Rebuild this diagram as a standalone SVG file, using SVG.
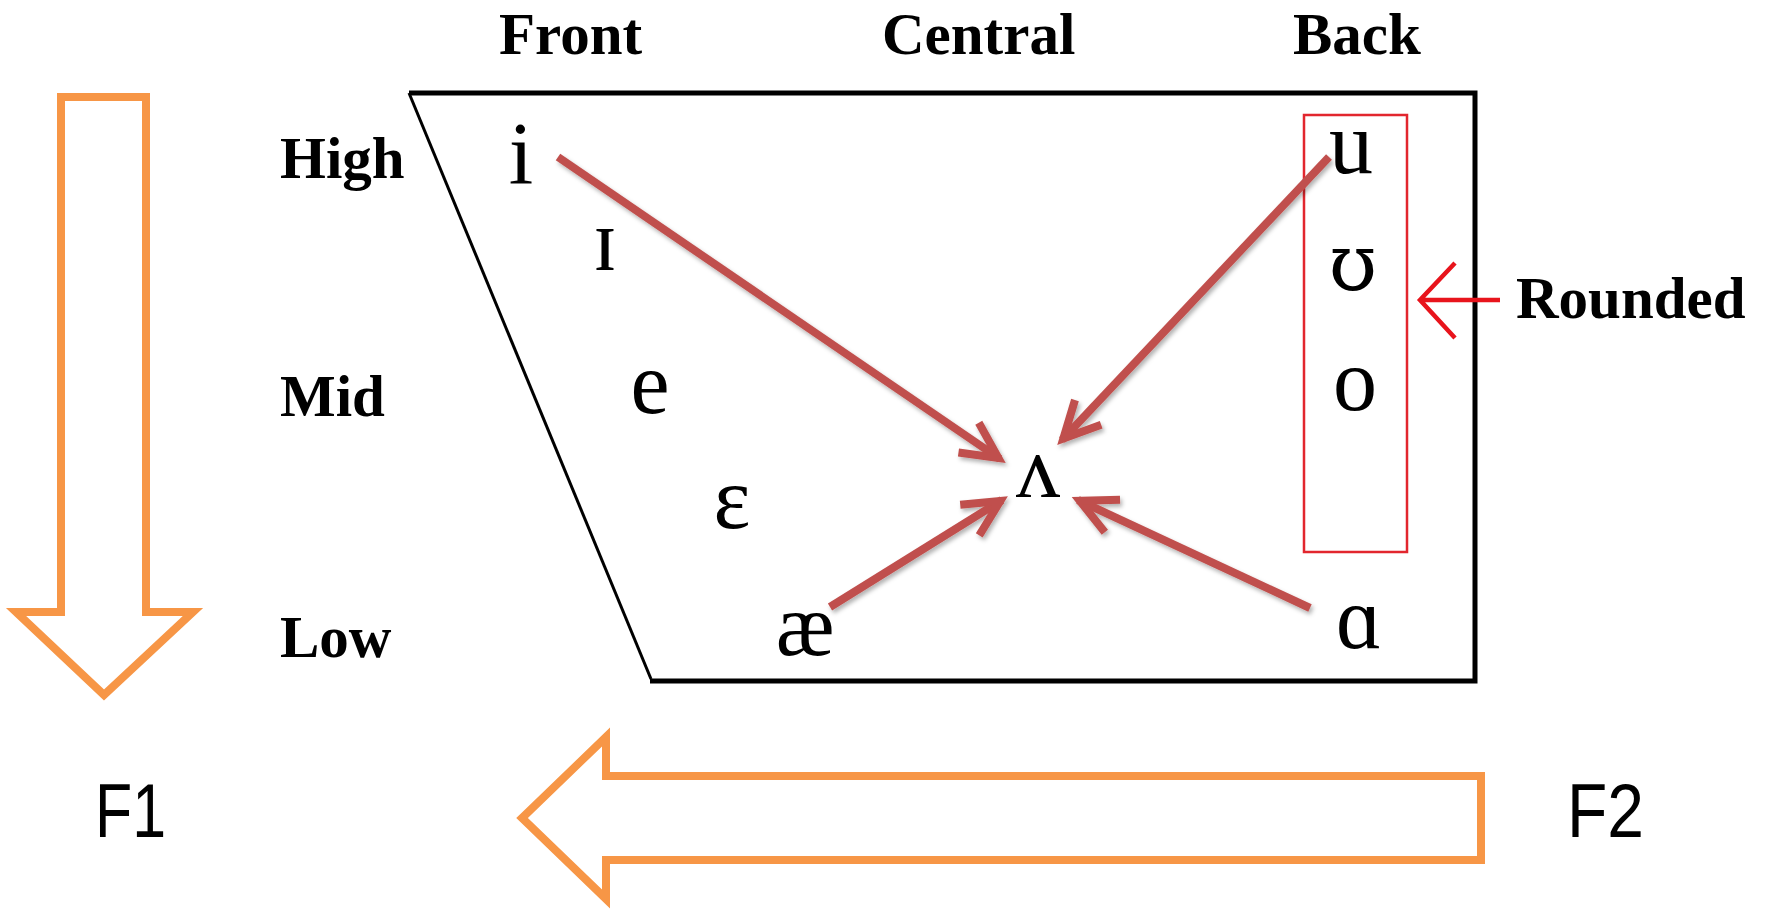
<svg xmlns="http://www.w3.org/2000/svg" width="1767" height="910" viewBox="0 0 1767 910">
<style>
.lab{font-family:"Liberation Serif","Times New Roman",serif;font-weight:bold;font-size:59px;fill:#000}
.vow{font-family:"Liberation Serif","DejaVu Serif",serif;font-size:88px;fill:#000;text-anchor:middle}
.vow2{font-family:"DejaVu Serif","Liberation Serif",serif;font-size:78px;fill:#000;text-anchor:middle}
.fl{font-family:"Liberation Sans",Arial,sans-serif;font-size:76px;fill:#000}
.orange{fill:none;stroke:#f79646;stroke-width:8;stroke-linejoin:miter}
.red{fill:none;stroke:#c0504d;stroke-width:8;stroke-linecap:butt;filter:url(#sh)}
</style>
<defs>
<filter id="sh" x="-20%" y="-20%" width="140%" height="140%">
<feDropShadow dx="2" dy="3" stdDeviation="2" flood-color="#000" flood-opacity="0.3"/>
</filter>
<marker id="vh" markerUnits="userSpaceOnUse" markerWidth="60" markerHeight="60" viewBox="-50 -30 60 60" refX="0" refY="0" orient="auto" overflow="visible">
<path d="M-38,-18 L-2,0 L-38,18" fill="none" stroke="#c0504d" stroke-width="8" stroke-linejoin="miter"/>
</marker>
</defs>
<rect width="1767" height="910" fill="#fff"/>

<g id="chart">
<path d="M409,93 L1475,93 L1475,681 L650,681" fill="none" stroke="#000" stroke-width="5" stroke-linejoin="miter"/>
<path d="M409,93 L651,679" fill="none" stroke="#000" stroke-width="3"/>
</g>

<g id="labels">
<text class="lab" x="499" y="54">Front</text>
<text class="lab" x="882" y="54">Central</text>
<text class="lab" x="1293" y="54">Back</text>
<text class="lab" x="280" y="178">High</text>
<text class="lab" x="280" y="416">Mid</text>
<text class="lab" x="280" y="657">Low</text>
</g>

<g id="rounded-box">
<rect x="1304" y="115" width="103" height="437" fill="none" stroke="#e2262e" stroke-width="2.5"/>
</g>

<g id="rounded-label">
<path d="M1500,300 L1421,300 M1455,263 L1420,300 L1455,338" fill="none" stroke="#e8141c" stroke-width="4.5" stroke-linejoin="miter"/>
<text class="lab" x="1516" y="318">Rounded</text>
</g>

<g id="vowel-i"><text class="vow" x="521" y="183">i</text></g>
<g id="vowel-I"><text class="vow" x="605" y="270">ɪ</text></g>
<g id="vowel-e"><text class="vow" x="650" y="413">e</text></g>
<g id="vowel-eps"><text class="vow" x="732" y="528">ɛ</text></g>
<g id="vowel-ae"><text class="vow" x="805" y="655">æ</text></g>
<g id="vowel-wedge"><text class="vow" x="1038" y="497">ʌ</text></g>
<g id="vowel-a"><text class="vow" x="1359" y="648">ɑ</text></g>
<g id="vowel-u"><text class="vow" x="1351" y="173">u</text></g>
<g id="vowel-U"><text class="vow2" x="1353" y="290">ʊ</text></g>
<g id="vowel-o"><text class="vow" x="1355" y="410">o</text></g>

<g id="connectors">
<line class="red" x1="558" y1="157" x2="1000" y2="459" marker-end="url(#vh)"/>
<line class="red" x1="1329" y1="157" x2="1062" y2="440" marker-end="url(#vh)"/>
<line class="red" x1="830" y1="607" x2="1002" y2="500" marker-end="url(#vh)"/>
<line class="red" x1="1310" y1="608" x2="1078" y2="500" marker-end="url(#vh)"/>
</g>

<g id="F1-arrow">
<path class="orange" d="M61,97 L146,97 L146,612 L193,612 L104,695 L16,612 L61,612 Z"/>
<text class="fl" x="95" y="837" textLength="71" lengthAdjust="spacingAndGlyphs">F1</text>
</g>

<g id="F2-arrow">
<path class="orange" d="M1481,776 L606,776 L606,737 L522,818 L606,899 L606,860 L1481,860 Z"/>
<text class="fl" x="1567" y="837" textLength="77" lengthAdjust="spacingAndGlyphs">F2</text>
</g>
</svg>
